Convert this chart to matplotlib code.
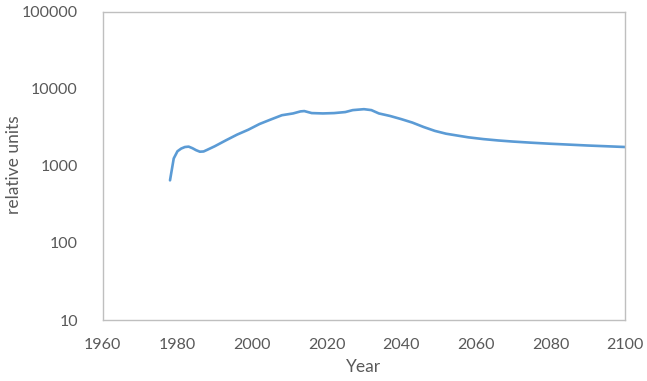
import numpy as np
from matplotlib import pyplot as plt

# Values (log scale)
years = [1978, 1979, 1980, 1981, 1982, 1983, 1984, 1985, 1986, 1987, 1988,
         1990, 1993, 1996, 1999, 2002, 2005, 2008, 2011, 2013, 2014, 2016,
         2019, 2022, 2025, 2027, 2030, 2032, 2034, 2037, 2040, 2043, 2046,
         2049, 2052, 2055, 2058, 2062, 2066, 2070, 2075, 2080, 2085, 2090,
         2095, 2100]
values = [650, 1250, 1550, 1680, 1760, 1780, 1700, 1600, 1530, 1540, 1620,
          1800, 2150, 2550, 2950, 3500, 4000, 4550, 4800, 5100, 5150, 4850,
          4800, 4850, 5000, 5300, 5450, 5300, 4800, 4450, 4050, 3650, 3200,
          2850, 2620, 2480, 2350, 2230, 2140, 2070, 2000, 1940, 1890, 1840,
          1800, 1760]

x_ticks = [1960, 1980, 2000, 2020, 2040, 2060, 2080, 2100]
y_ticks = [10, 100, 1000, 10000, 100000]

plt.rcParams['font.family'] = ['Lato', 'DejaVu Sans']

fig = plt.figure(figsize=(6.47, 3.81), dpi=100)
ax = fig.add_axes([0.159, 0.160, 0.807, 0.809])

ax.plot(years, values, color='#5B9BD5', linewidth=1.9, solid_capstyle='round')

ax.set_yscale('log')
ax.set_xlim(1960, 2100)
ax.set_ylim(10, 100000)
ax.set_xticks(x_ticks)
ax.set_xticklabels([str(t) for t in x_ticks])
ax.set_yticks(y_ticks)
ax.set_yticklabels([str(t) for t in y_ticks])
ax.minorticks_off()
ax.tick_params(length=0, labelsize=11.5, colors='#595959')
ax.tick_params(axis='x', pad=13)
ax.tick_params(axis='y', pad=18)

for s in ax.spines.values():
    s.set_color('#BFBFBF')
    s.set_linewidth(1.0)

ax.set_xlabel("Year", fontsize=12.5, color='#595959', labelpad=5)
# y label placed by hand so it is not clipped at the left edge
fig.text(14 / 647, 1 - 165 / 381, "relative units", rotation=90,
         ha='center', va='center', fontsize=12.5, color='#595959')

fig.savefig("out.png", dpi=100)
